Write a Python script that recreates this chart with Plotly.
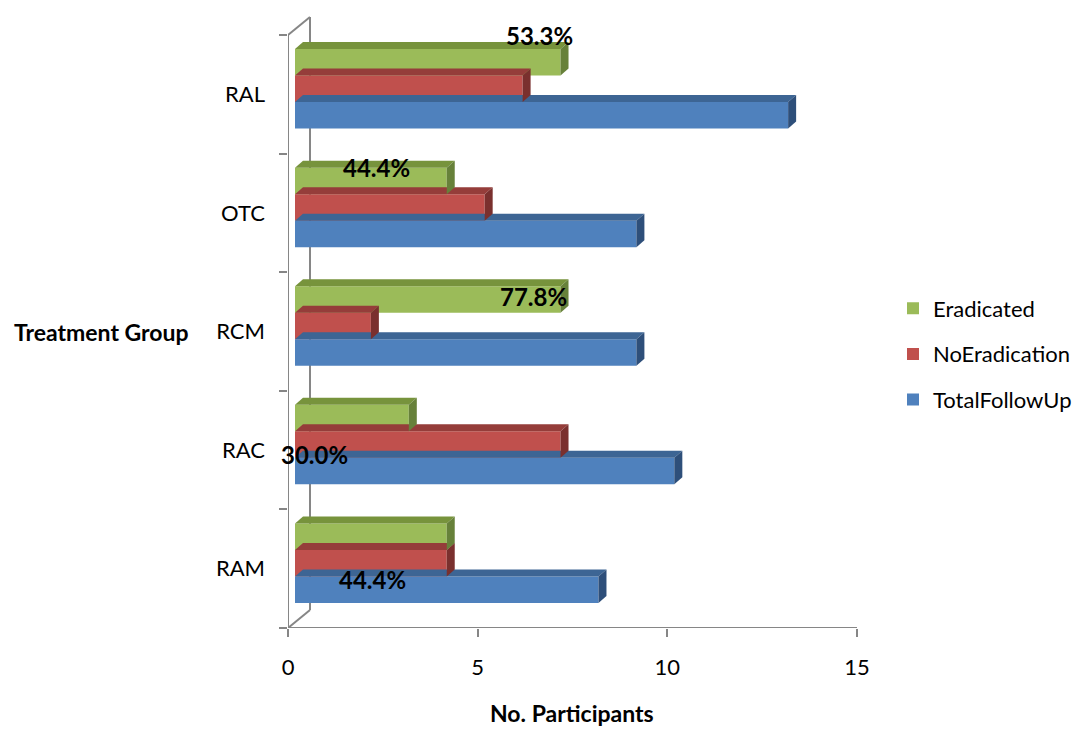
import plotly.graph_objects as go

# Treatment groups, bottom to top
groups = ["RAM", "RAC", "RCM", "OTC", "RAL"]

total_follow_up = [8, 10, 9, 9, 13]
no_eradication = [4, 7, 2, 5, 6]
eradicated = [4, 3, 7, 4, 7]

# Eradication rate labels per group
rate_labels = ["44.4%", "30.0%", "77.8%", "44.4%", "53.3%"]

x_ticks = [0, 5, 10, 15]

# ---- geometry of the pseudo-3D bars -------------------------------------
PX_X = 569 / 15.0          # pixels per x unit
PX_Y = 118.6               # pixels per category band
FRONT_SHIFT_X = 7 / PX_X   # front face offset from the floor axis
DEPTH_X = 8 / PX_X         # depth of the bars (x)
DEPTH_Y = 7 / PX_Y         # depth of the bars (y)
BAR_H = 26.5 / PX_Y        # bar thickness
GROUP_SHIFT = 5.5 / PX_Y   # bars sit slightly above the band centre
WALL_X = 22 / PX_X
WALL_Y = 18 / PX_Y

FONT = "Lato"
GRID = "#868686"

series = [
    ("TotalFollowUp", total_follow_up, -1, "#4F81BD", "#3D6594", "#2E4F7A"),
    ("NoEradication", no_eradication, 0, "#C0504D", "#953D3A", "#7A302E"),
    ("Eradicated", eradicated, 1, "#9BBB59", "#77933C", "#67813A"),
]

fig = go.Figure()

# wall and floor frame, on the floor axis (drawn beneath the bars)
frame_lines = [
    ([0, 0], [0, 5]),
    ([WALL_X, WALL_X], [WALL_Y, 5 + WALL_Y]),
    ([0, WALL_X], [5, 5 + WALL_Y]),
    ([0, WALL_X], [0, WALL_Y]),
    ([0, 15], [0, 0]),
]
for fx, fy in frame_lines:
    fig.add_trace(go.Scatter(x=fx, y=fy, mode="lines", line=dict(color=GRID, width=2),
                             xaxis="x", yaxis="y", showlegend=False, hoverinfo="skip",
                             cliponaxis=False))

# depth faces (top and right side) first, so the front faces cover them
for name, vals, slot, front, top, side in series:
    for i, v in enumerate(vals):
        yc = i + 0.5 + GROUP_SHIFT + slot * BAR_H
        y0, y1 = yc - BAR_H / 2, yc + BAR_H / 2
        fig.add_trace(go.Scatter(
            x=[0, v, v + DEPTH_X, DEPTH_X, 0],
            y=[y1, y1, y1 + DEPTH_Y, y1 + DEPTH_Y, y1],
            fill="toself", fillcolor=top, mode="lines", line=dict(width=0),
            xaxis="x2", yaxis="y", showlegend=False, hoverinfo="skip"))
        fig.add_trace(go.Scatter(
            x=[v, v, v + DEPTH_X, v + DEPTH_X, v],
            y=[y0, y1, y1 + DEPTH_Y, y0 + DEPTH_Y, y0],
            fill="toself", fillcolor=side, mode="lines", line=dict(width=0),
            xaxis="x2", yaxis="y", showlegend=False, hoverinfo="skip"))

# front faces (legend order: Eradicated, NoEradication, TotalFollowUp)
for name, vals, slot, front, top, side in reversed(series):
    fig.add_trace(go.Bar(
        name=name, orientation="h",
        x=vals,
        y=[i + 0.5 + GROUP_SHIFT + slot * BAR_H for i in range(len(vals))],
        width=BAR_H, marker=dict(color=front, line=dict(width=0)),
        xaxis="x2", yaxis="y", legendgroup=name))

# keeps the boundary-tick axis alive
fig.add_trace(go.Scatter(x=[None], y=[None], xaxis="x", yaxis="y2",
                         showlegend=False, hoverinfo="skip"))

# eradication rate labels
label_pos = [(2.24, 0.405), (0.686, 1.460), (6.46, 2.791), (2.32, 3.879), (6.64, 4.992)]
annotations = []
for txt, (lx, ly) in zip(rate_labels, label_pos):
    annotations.append(dict(text=txt, x=lx, y=ly, xref="x", yref="y",
                            showarrow=False, xanchor="center", yanchor="middle",
                            font=dict(family=FONT, size=24, color="black", weight="bold")))

annotations.append(dict(text="<b>Treatment Group</b>", x=(101.5 - 288) / 569, y=(628 - 332) / 613,
                        xref="paper", yref="paper", showarrow=False,
                        xanchor="center", yanchor="middle",
                        font=dict(family=FONT, size=23, color="black")))
annotations.append(dict(text="<b>No. Participants</b>", x=(572 - 288) / 569, y=(628 - 713) / 613,
                        xref="paper", yref="paper", showarrow=False,
                        xanchor="center", yanchor="middle",
                        font=dict(family=FONT, size=23, color="black")))

y_range = [0, 613 / PX_Y]

fig.update_layout(
    width=1082, height=729,
    margin=dict(l=288, r=225, t=15, b=101, autoexpand=False),
    paper_bgcolor="white", plot_bgcolor="white",
    barmode="overlay",
    showlegend=True,
    legend=dict(x=(893 - 288) / 569, y=(628 - 354) / 613, xanchor="left", yanchor="middle",
                traceorder="grouped", tracegroupgap=14,
                font=dict(family=FONT, size=22, color="black"),
                bgcolor="rgba(0,0,0,0)"),
    xaxis=dict(range=[0, 15], tickvals=x_ticks, ticktext=[str(t) for t in x_ticks],
               ticks="outside", ticklen=8, tickwidth=2, tickcolor=GRID,
               showline=False, showgrid=False, zeroline=False,
               tickfont=dict(family=FONT, size=22, color="black"),
               ticklabelstandoff=12, anchor="y"),
    xaxis2=dict(range=[-FRONT_SHIFT_X, 15 - FRONT_SHIFT_X], overlaying="x", anchor="y",
                visible=False),
    yaxis=dict(range=y_range, tickvals=[i + 0.5 for i in range(len(groups))], ticktext=groups,
               ticks="", showline=False, showgrid=False, zeroline=False,
               tickfont=dict(family=FONT, size=22, color="black"),
               ticklabelstandoff=22, anchor="x"),
    yaxis2=dict(range=y_range, tickvals=list(range(len(groups) + 1)), overlaying="y", anchor="x",
                side="left", ticks="outside", ticklen=8, tickwidth=2, tickcolor=GRID,
                showticklabels=False, showline=False, showgrid=False, zeroline=False),
    annotations=annotations,
)

fig.write_html("out.html")
